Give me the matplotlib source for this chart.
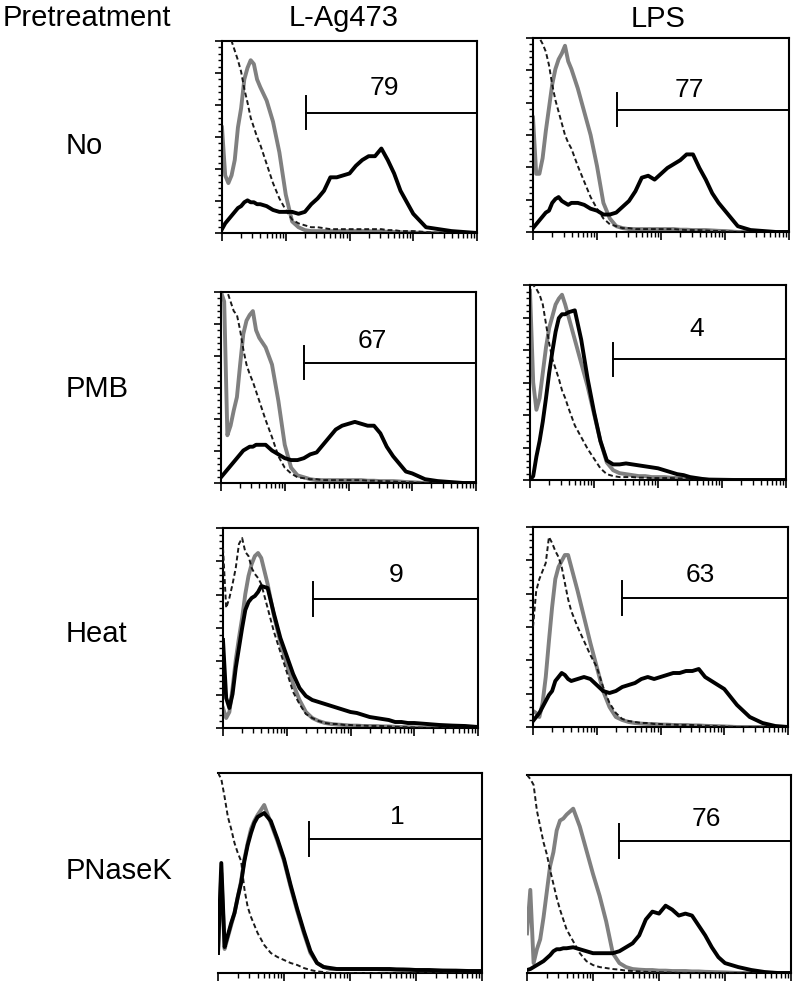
import matplotlib
matplotlib.use("Agg")
import matplotlib.pyplot as plt
from matplotlib.ticker import LogLocator, MultipleLocator, NullFormatter, NullLocator
import numpy as np

plt.rcParams["font.family"] = ["Liberation Sans", "DejaVu Sans"]

# fluorescence channel, log10 units (1 .. 10^4)
LOGX = [0.0, 0.05, 0.1, 0.15, 0.2, 0.25, 0.3, 0.35, 0.4, 0.45, 0.5, 0.55, 0.6,
        0.7, 0.8, 0.9, 1.0, 1.1, 1.2, 1.3, 1.4, 1.5, 1.6, 1.7, 1.8, 1.9, 2.0,
        2.1, 2.2, 2.3, 2.4, 2.5, 2.6, 2.7, 2.8, 2.9, 3.0, 3.2, 3.4, 3.6, 3.8, 4.0]

rows = ["No", "PMB", "Heat", "PNaseK"]
cols = ["L-Ag473", "LPS"]
pct = [[79, 77], [67, 4], [9, 63], [1, 76]]

# relative cell counts (fraction of panel height)
# --- No pretreatment ---
no_ag_stim = [0.02, 0.05, 0.07, 0.09, 0.11, 0.13, 0.14, 0.16, 0.17, 0.16, 0.16, 0.15, 0.15,
              0.14, 0.12, 0.11, 0.11, 0.11, 0.10, 0.11, 0.15, 0.18, 0.22, 0.29, 0.29, 0.30, 0.31,
              0.35, 0.38, 0.40, 0.40, 0.44, 0.38, 0.31, 0.22, 0.16, 0.10, 0.03, 0.02, 0.01, 0.005, 0.0]
no_ag_med = [0.55, 0.30, 0.26, 0.30, 0.38, 0.55, 0.65, 0.80, 0.86, 0.90, 0.88, 0.80, 0.76,
             0.69, 0.58, 0.42, 0.20, 0.06, 0.03, 0.015, 0.01, 0.01, 0.01, 0.01, 0.01, 0.01, 0.01,
             0.01, 0.01, 0.01, 0.008, 0.008, 0.006, 0.005, 0.004, 0.003, 0.002, 0.0, 0.0, 0.0, 0.0, 0.0]
no_ag_iso = [1.05, 1.05, 1.05, 1.00, 0.95, 0.90, 0.84, 0.75, 0.68, 0.60, 0.55, 0.50, 0.46,
             0.36, 0.26, 0.18, 0.12, 0.07, 0.05, 0.04, 0.03, 0.03, 0.025, 0.02, 0.02, 0.02, 0.02,
             0.02, 0.02, 0.02, 0.02, 0.02, 0.015, 0.015, 0.01, 0.01, 0.01, 0.005, 0.0, 0.0, 0.0, 0.0]
no_lps_stim = [0.02, 0.04, 0.06, 0.08, 0.10, 0.11, 0.15, 0.17, 0.18, 0.16, 0.15, 0.14, 0.15,
               0.15, 0.14, 0.12, 0.11, 0.09, 0.09, 0.10, 0.13, 0.16, 0.21, 0.28, 0.29, 0.27, 0.30,
               0.33, 0.35, 0.37, 0.40, 0.40, 0.33, 0.27, 0.20, 0.15, 0.11, 0.03, 0.01, 0.005, 0.0, 0.0]
no_lps_med = [0.59, 0.30, 0.30, 0.38, 0.52, 0.64, 0.76, 0.84, 0.89, 0.92, 0.96, 0.88, 0.84,
              0.74, 0.62, 0.50, 0.34, 0.15, 0.07, 0.03, 0.02, 0.015, 0.015, 0.015, 0.015, 0.015, 0.015,
              0.015, 0.015, 0.012, 0.012, 0.01, 0.01, 0.01, 0.008, 0.006, 0.005, 0.0, 0.0, 0.0, 0.0, 0.0]
no_lps_iso = [1.05, 1.05, 1.00, 0.97, 0.93, 0.86, 0.76, 0.68, 0.62, 0.56, 0.50, 0.46, 0.43,
              0.34, 0.26, 0.18, 0.12, 0.07, 0.04, 0.03, 0.02, 0.02, 0.015, 0.015, 0.015, 0.015, 0.015,
              0.015, 0.015, 0.012, 0.01, 0.01, 0.01, 0.008, 0.006, 0.005, 0.004, 0.0, 0.0, 0.0, 0.0, 0.0]

# --- PMB ---
pmb_ag_stim = [0.03, 0.05, 0.07, 0.09, 0.11, 0.13, 0.15, 0.17, 0.18, 0.19, 0.19, 0.20, 0.20,
               0.20, 0.17, 0.15, 0.13, 0.12, 0.12, 0.13, 0.15, 0.16, 0.20, 0.24, 0.28, 0.30, 0.31,
               0.32, 0.31, 0.30, 0.30, 0.26, 0.19, 0.14, 0.10, 0.06, 0.05, 0.02, 0.01, 0.005, 0.0, 0.0]
pmb_ag_med = [1.00, 0.95, 0.25, 0.30, 0.38, 0.45, 0.62, 0.78, 0.85, 0.88, 0.90, 0.80, 0.76,
              0.71, 0.62, 0.43, 0.20, 0.08, 0.04, 0.03, 0.02, 0.015, 0.015, 0.015, 0.015, 0.015, 0.015,
              0.015, 0.015, 0.012, 0.012, 0.01, 0.01, 0.01, 0.008, 0.005, 0.004, 0.0, 0.0, 0.0, 0.0, 0.0]
pmb_ag_iso = [1.05, 1.05, 1.00, 0.95, 0.90, 0.88, 0.80, 0.70, 0.62, 0.57, 0.53, 0.48, 0.43,
              0.33, 0.24, 0.14, 0.08, 0.05, 0.03, 0.025, 0.02, 0.02, 0.015, 0.015, 0.015, 0.015, 0.015,
              0.015, 0.015, 0.012, 0.012, 0.01, 0.01, 0.008, 0.006, 0.005, 0.004, 0.0, 0.0, 0.0, 0.0, 0.0]
pmb_lps_stim = [0.0, 0.02, 0.12, 0.20, 0.30, 0.42, 0.55, 0.66, 0.76, 0.83, 0.85, 0.85, 0.86,
                0.87, 0.72, 0.52, 0.35, 0.20, 0.10, 0.08, 0.08, 0.085, 0.08, 0.075, 0.07, 0.065, 0.06,
                0.05, 0.04, 0.03, 0.025, 0.015, 0.01, 0.005, 0.0, 0.0, 0.0, 0.0, 0.0, 0.0, 0.0, 0.0]
pmb_lps_med = [0.97, 0.50, 0.36, 0.42, 0.55, 0.68, 0.78, 0.84, 0.90, 0.93, 0.95, 0.90, 0.84,
               0.72, 0.60, 0.48, 0.34, 0.20, 0.09, 0.05, 0.035, 0.03, 0.025, 0.02, 0.02, 0.015, 0.015,
               0.015, 0.012, 0.01, 0.01, 0.008, 0.006, 0.005, 0.004, 0.003, 0.002, 0.0, 0.0, 0.0, 0.0, 0.0]
pmb_lps_iso = [1.05, 1.00, 0.98, 0.95, 0.90, 0.80, 0.70, 0.62, 0.57, 0.52, 0.46, 0.42, 0.37,
               0.28, 0.22, 0.16, 0.11, 0.06, 0.03, 0.02, 0.015, 0.015, 0.015, 0.012, 0.012, 0.01, 0.01,
               0.01, 0.01, 0.008, 0.008, 0.006, 0.005, 0.004, 0.003, 0.002, 0.0, 0.0, 0.0, 0.0, 0.0, 0.0]

# --- Heat ---
heat_ag_stim = [0.44, 0.15, 0.10, 0.17, 0.30, 0.40, 0.50, 0.59, 0.63, 0.65, 0.66, 0.68, 0.71,
                0.70, 0.57, 0.45, 0.36, 0.27, 0.20, 0.16, 0.14, 0.13, 0.12, 0.11, 0.10, 0.09, 0.08,
                0.075, 0.065, 0.055, 0.05, 0.045, 0.04, 0.03, 0.03, 0.025, 0.025, 0.02, 0.015, 0.012, 0.01, 0.005]
heat_ag_med = [0.10, 0.05, 0.08, 0.20, 0.34, 0.45, 0.55, 0.67, 0.76, 0.82, 0.86, 0.875, 0.85,
               0.72, 0.56, 0.43, 0.32, 0.22, 0.14, 0.08, 0.05, 0.035, 0.025, 0.02, 0.017, 0.015, 0.012,
               0.012, 0.01, 0.01, 0.01, 0.008, 0.008, 0.006, 0.005, 0.004, 0.003, 0.0, 0.0, 0.0, 0.0, 0.0]
heat_ag_iso = [0.90, 0.60, 0.65, 0.72, 0.80, 0.92, 0.95, 0.88, 0.86, 0.80, 0.77, 0.75, 0.72,
               0.60, 0.48, 0.38, 0.28, 0.18, 0.12, 0.07, 0.05, 0.035, 0.025, 0.02, 0.02, 0.015, 0.015,
               0.012, 0.012, 0.01, 0.01, 0.01, 0.008, 0.006, 0.005, 0.004, 0.003, 0.0, 0.0, 0.0, 0.0, 0.0]
heat_lps_stim = [0.03, 0.05, 0.07, 0.10, 0.13, 0.16, 0.18, 0.23, 0.25, 0.27, 0.26, 0.24, 0.23,
                 0.24, 0.25, 0.24, 0.21, 0.18, 0.17, 0.18, 0.20, 0.21, 0.22, 0.24, 0.25, 0.24, 0.25,
                 0.26, 0.27, 0.27, 0.28, 0.28, 0.29, 0.25, 0.23, 0.21, 0.19, 0.11, 0.05, 0.02, 0.005, 0.0]
heat_lps_med = [0.08, 0.07, 0.05, 0.12, 0.25, 0.43, 0.60, 0.74, 0.80, 0.83, 0.86, 0.86, 0.80,
                0.68, 0.55, 0.42, 0.30, 0.18, 0.10, 0.05, 0.035, 0.025, 0.02, 0.017, 0.015, 0.015, 0.012,
                0.012, 0.01, 0.01, 0.01, 0.008, 0.008, 0.006, 0.005, 0.004, 0.003, 0.0, 0.0, 0.0, 0.0, 0.0]
heat_lps_iso = [0.50, 0.68, 0.74, 0.78, 0.82, 0.95, 0.92, 0.88, 0.85, 0.80, 0.72, 0.64, 0.58,
                0.50, 0.43, 0.36, 0.30, 0.20, 0.12, 0.07, 0.04, 0.03, 0.025, 0.02, 0.02, 0.015, 0.015,
                0.012, 0.012, 0.01, 0.01, 0.01, 0.008, 0.006, 0.005, 0.004, 0.003, 0.0, 0.0, 0.0, 0.0, 0.0]

# --- PNaseK ---
pk_ag_stim = [0.10, 0.55, 0.13, 0.19, 0.25, 0.30, 0.38, 0.45, 0.56, 0.64, 0.70, 0.75, 0.78,
              0.80, 0.76, 0.67, 0.57, 0.44, 0.32, 0.21, 0.11, 0.05, 0.03, 0.025, 0.02, 0.02, 0.02,
              0.02, 0.02, 0.02, 0.02, 0.02, 0.02, 0.018, 0.018, 0.017, 0.015, 0.015, 0.012, 0.012, 0.01, 0.01]
pk_ag_med = [0.10, 0.50, 0.12, 0.18, 0.24, 0.30, 0.38, 0.46, 0.57, 0.65, 0.72, 0.76, 0.79,
             0.84, 0.75, 0.66, 0.56, 0.43, 0.31, 0.20, 0.10, 0.05, 0.03, 0.02, 0.02, 0.02, 0.02,
             0.02, 0.02, 0.02, 0.02, 0.018, 0.018, 0.017, 0.015, 0.015, 0.015, 0.012, 0.012, 0.01, 0.01, 0.01]
pk_ag_iso = [1.00, 0.97, 0.88, 0.78, 0.72, 0.65, 0.60, 0.56, 0.42, 0.33, 0.28, 0.24, 0.20,
             0.14, 0.10, 0.08, 0.065, 0.05, 0.04, 0.025, 0.015, 0.008, 0.005, 0.0, 0.0, 0.0, 0.0,
             0.0, 0.0, 0.0, 0.0, 0.0, 0.0, 0.0, 0.0, 0.0, 0.0, 0.0, 0.0, 0.0, 0.0, 0.0]
pk_lps_stim = [0.015, 0.02, 0.03, 0.04, 0.05, 0.06, 0.075, 0.09, 0.11, 0.12, 0.12, 0.125, 0.125,
               0.13, 0.12, 0.11, 0.10, 0.10, 0.10, 0.10, 0.11, 0.13, 0.15, 0.19, 0.27, 0.31, 0.30,
               0.34, 0.32, 0.29, 0.30, 0.29, 0.24, 0.19, 0.13, 0.08, 0.05, 0.03, 0.015, 0.005, 0.0, 0.0]
pk_lps_med = [0.20, 0.42, 0.05, 0.12, 0.17, 0.28, 0.41, 0.54, 0.61, 0.72, 0.77, 0.78, 0.80,
              0.83, 0.74, 0.62, 0.50, 0.39, 0.26, 0.10, 0.05, 0.03, 0.02, 0.017, 0.015, 0.015, 0.012,
              0.012, 0.01, 0.01, 0.01, 0.008, 0.008, 0.006, 0.005, 0.004, 0.003, 0.0, 0.0, 0.0, 0.0, 0.0]
pk_lps_iso = [1.00, 0.98, 0.95, 0.82, 0.74, 0.66, 0.60, 0.52, 0.45, 0.38, 0.32, 0.27, 0.22,
              0.16, 0.10, 0.06, 0.04, 0.03, 0.025, 0.02, 0.017, 0.012, 0.01, 0.008, 0.006, 0.005, 0.004,
              0.003, 0.002, 0.0, 0.0, 0.0, 0.0, 0.0, 0.0, 0.0, 0.0, 0.0, 0.0, 0.0, 0.0, 0.0]

curves = [
    [(no_ag_iso, no_ag_med, no_ag_stim), (no_lps_iso, no_lps_med, no_lps_stim)],
    [(pmb_ag_iso, pmb_ag_med, pmb_ag_stim), (pmb_lps_iso, pmb_lps_med, pmb_lps_stim)],
    [(heat_ag_iso, heat_ag_med, heat_ag_stim), (heat_lps_iso, heat_lps_med, heat_lps_stim)],
    [(pk_ag_iso, pk_ag_med, pk_ag_stim), (pk_lps_iso, pk_lps_med, pk_lps_stim)],
]

# marker gate: start (log10), height, label position (log10, height)
gate_lo = [[1.32, 1.32], [1.30, 1.30], [1.41, 1.39], [1.38, 1.39]]
gate_y = [[0.627, 0.629], [0.63, 0.62], [0.645, 0.647], [0.67, 0.667]]
label_x = [[2.54, 2.45], [2.38, 2.60], [2.71, 2.62], [2.72, 2.71]]
label_y = [[0.755, 0.732], [0.741, 0.772], [0.765, 0.76], [0.78, 0.78]]

# panel boxes in pixels: left, right, top, bottom
boxes = [
    [(222, 477, 41, 233), (533, 789, 38, 232)],
    [(221, 476, 292, 483), (530, 786, 285, 480)],
    [(223, 478, 528, 728), (533, 788, 527, 727)],
    [(218, 482, 773, 973), (527, 791, 775, 973)],
]

W, H = 798, 991
fig = plt.figure(figsize=(W / 100, H / 100), dpi=100)

x = 10 ** np.array(LOGX)

for r in range(4):
    for c in range(2):
        l, rt, t, b = boxes[r][c]
        ax = fig.add_axes([l / W, 1 - b / H, (rt - l) / W, (b - t) / H])
        iso, med, stim = curves[r][c]
        ax.plot(x, med, color="#808080", lw=2.8, zorder=2)
        ax.plot(x, iso, color="#1a1a1a", lw=1.4, ls=(0, (2.5, 1.5)), zorder=3)
        ax.plot(x, stim, color="black", lw=2.8, zorder=4)

        ax.set_xscale("log")
        ax.set_xlim(1, 1e4)
        ax.set_ylim(0, 1)

        # gate marker
        g0 = 10 ** gate_lo[r][c]
        gy = gate_y[r][c]
        ax.plot([g0, 1e4], [gy, gy], color="black", lw=1.4, clip_on=False, zorder=5)
        ax.plot([g0, g0], [gy - 0.085, gy + 0.085], color="black", lw=1.4, zorder=5)
        ax.plot([1e4, 1e4], [gy - 0.085, gy + 0.085], color="black", lw=1.4,
                clip_on=False, zorder=5)
        ax.text(10 ** label_x[r][c], label_y[r][c], str(pct[r][c]), fontsize=19,
                ha="center", va="center")

        ax.xaxis.set_major_locator(LogLocator(base=10, numticks=10))
        ax.xaxis.set_minor_locator(LogLocator(base=10, subs=np.arange(2, 10), numticks=10))
        ax.xaxis.set_major_formatter(NullFormatter())
        ax.xaxis.set_minor_formatter(NullFormatter())
        ax.tick_params(axis="x", which="major", direction="out", length=6, width=1.2)
        ax.tick_params(axis="x", which="minor", direction="out", length=3.5, width=1.0)

        for s in ax.spines.values():
            s.set_linewidth(1.5)

        if r < 3:
            ax.yaxis.set_major_locator(MultipleLocator(1 / 6))
            ax.yaxis.set_minor_locator(MultipleLocator(1 / 30))
            ax.yaxis.set_major_formatter(NullFormatter())
            ax.tick_params(axis="y", which="major", direction="out", length=5, width=1.2)
            ax.tick_params(axis="y", which="minor", direction="out", length=3, width=1.0)
        else:
            ax.yaxis.set_major_locator(NullLocator())
            ax.yaxis.set_minor_locator(NullLocator())
            ax.spines["left"].set_visible(False)

fig.text(3 / W, 1 - 18 / H, "Pretreatment", fontsize=21, ha="left", va="center")
fig.text(344 / W, 1 - 18 / H, cols[0], fontsize=21, ha="center", va="center")
fig.text(658 / W, 1 - 19 / H, cols[1], fontsize=21, ha="center", va="center")
for name, yc in zip(rows, [146, 389, 634, 871]):
    fig.text(66 / W, 1 - yc / H, name, fontsize=21, ha="left", va="center")

fig.savefig("out.png", dpi=100)
